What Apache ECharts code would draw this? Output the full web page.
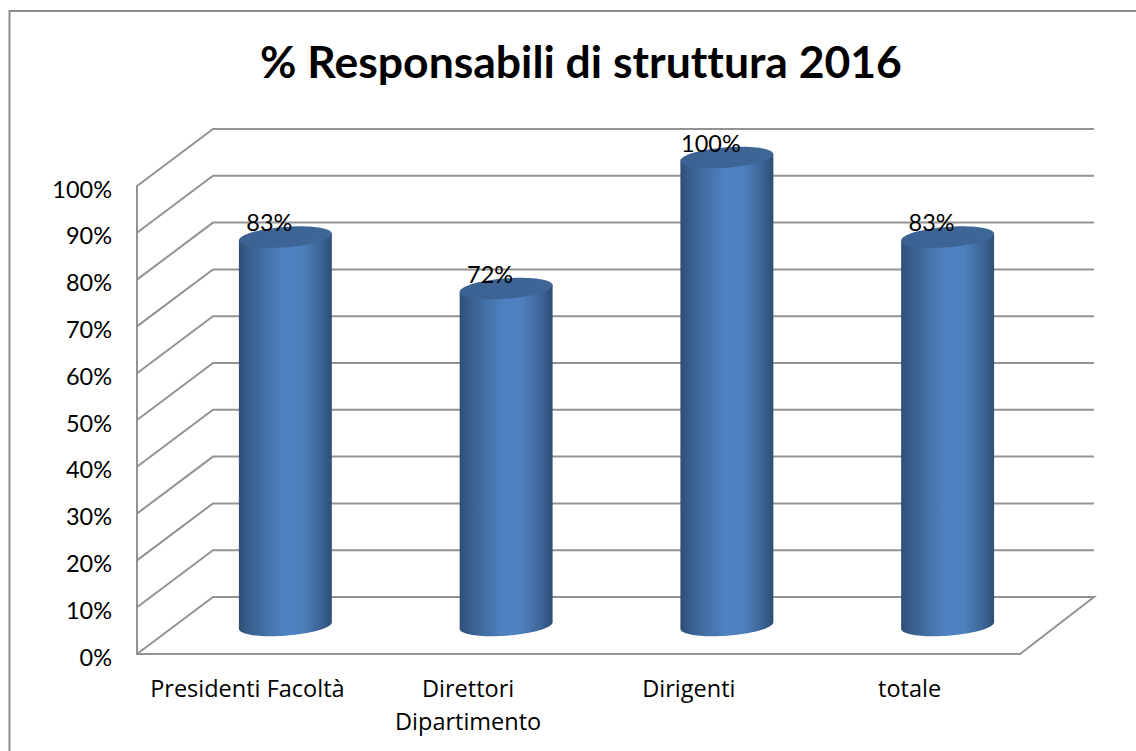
<!DOCTYPE html>
<html lang="it">
<head>
  <meta charset="UTF-8">
  <title>% Responsabili di struttura 2016</title>
  <script src="https://cdn.jsdelivr.net/npm/echarts@6/dist/echarts.min.js"></script>
  <style>
    html,body{margin:0;padding:0;background:#fff}
    svg text{font-variant-ligatures:none}
  </style>
</head>
<body>
<div id="main" style="width:1136px;height:751px;"></div>
<script type="text/javascript">

var categories = ['Presidenti Facoltà', 'Direttori\nDipartimento', 'Dirigenti', 'totale'];
var values = [83, 72, 100, 83];
var wallTicks = [0, 10, 20, 30, 40, 50, 60, 70, 80, 90, 100];
var chartTitle = '% Responsabili di struttura 2016';

// svg: serve per togliere le legature di Lato via css
var myChart = echarts.init(document.getElementById('main'), null, { renderer: 'svg' });

// finta prospettiva 3D
var DEPTH_X = 76, DEPTH_Y = 57;
var RX = 46.6, RY = 10.2, TILT = -4.3 * Math.PI / 180;
var LINE = '#939393';
var FONT = 'Lato';

function ellipsePoint(cx, cy, t) {
  return [
    cx + RX * Math.cos(t) * Math.cos(TILT) - RY * Math.sin(t) * Math.sin(TILT),
    cy + RX * Math.cos(t) * Math.sin(TILT) + RY * Math.sin(t) * Math.cos(TILT)
  ];
}

function renderWall(params, api) {
  var y = api.coord([0, api.value(0)])[1];
  var g = params.coordSys;
  var x0 = g.x, x1 = g.x + g.width;
  var pts = [[x0, y], [x0 + DEPTH_X, y - DEPTH_Y], [x1 + DEPTH_X - 2, y - DEPTH_Y]];
  // il pavimento chiude anche sul lato destro
  if (api.value(0) === 0) pts.push([x1, y]);
  return {
    type: 'polyline',
    shape: { points: pts },
    style: { fill: null, stroke: LINE, lineWidth: 2 }
  };
}

function renderBar(params, api) {
  var base = api.coord([api.value(0), 0]);
  var top = api.coord([api.value(0), api.value(1)]);
  var cx = base[0] + DEPTH_X / 2;
  var by = base[1] - DEPTH_Y / 2;
  var ty = top[1] - DEPTH_Y / 2;

  var body = [];
  for (var i = 0; i <= 40; i++) {
    body.push(ellipsePoint(cx, by, Math.PI - Math.PI * i / 40));
  }
  body.push(ellipsePoint(cx, ty, 0));
  body.push(ellipsePoint(cx, ty, Math.PI));

  var cap = [];
  for (var j = 0; j < 80; j++) {
    cap.push(ellipsePoint(cx, ty, Math.PI * 2 * j / 80));
  }

  return {
    type: 'group',
    children: [
      {
        type: 'polygon',
        shape: { points: body },
        style: {
          fill: new echarts.graphic.LinearGradient(0, 0, 1, 0, [
            { offset: 0, color: '#2d4d74' },
            { offset: 0.08, color: '#365b88' },
            { offset: 0.28, color: '#4370a6' },
            { offset: 0.48, color: '#4f82c2' },
            { offset: 0.68, color: '#4e80bd' },
            { offset: 0.88, color: '#3c6496' },
            { offset: 1, color: '#2e4e75' }
          ])
        }
      },
      {
        type: 'polygon',
        shape: { points: cap },
        style: {
          fill: new echarts.graphic.LinearGradient(0, 0, 1, 0, [
            { offset: 0, color: '#3b6293' },
            { offset: 1, color: '#3f6796' }
          ])
        }
      },
      {
        type: 'text',
        style: {
          x: cx - 16,
          y: ty - 15,
          text: api.value(1) + '%',
          fill: '#000',
          font: '23.5px ' + FONT,
          align: 'center',
          verticalAlign: 'middle'
        }
      }
    ]
  };
}

var option = {
  backgroundColor: '#fff',
  animation: false,
  title: {
    text: chartTitle,
    left: 576,
    top: 33,
    textAlign: 'center',
    textStyle: { fontFamily: FONT, fontSize: 44.5, fontWeight: 'bold', color: '#000' }
  },
  grid: { left: 137, top: 186, width: 883, height: 468 },
  xAxis: {
    type: 'category',
    data: categories,
    axisTick: { show: false },
    axisLine: { lineStyle: { color: LINE, width: 2 } },
    axisLabel: { interval: 0, margin: 17, color: '#000', fontFamily: 'Open Sans', fontSize: 23.5, lineHeight: 33 }
  },
  yAxis: {
    type: 'value',
    min: 0,
    max: 100,
    interval: 10,
    axisTick: { show: false },
    splitLine: { show: false },
    axisLine: { show: true, lineStyle: { color: LINE, width: 2 } },
    // top con lineHeight piccola: le etichette scendono di 2-3 px come nell'originale
    axisLabel: { margin: 25, verticalAlign: 'top', lineHeight: 5, formatter: '{value}%', color: '#000', fontFamily: FONT, fontSize: 23.5 }
  },
  // cornice del grafico, solo sopra e a sinistra come nell'originale
  graphic: [
    { type: 'polyline', silent: true, shape: { points: [[9.5, 751], [9.5, 11], [1136, 11]] },
      style: { fill: null, stroke: '#8c8c8c', lineWidth: 2 } }
  ],
  series: [
    {
      type: 'custom',
      silent: true,
      renderItem: renderWall,
      encode: { y: 0 },
      data: wallTicks.map(function (v) { return [v]; }),
      z: 1
    },
    {
      type: 'custom',
      silent: true,
      renderItem: renderBar,
      encode: { x: 0, y: 1 },
      data: values.map(function (v, i) { return [i, v]; }),
      z: 2
    }
  ]
};

myChart.setOption(option);

</script>
</body>
</html>
